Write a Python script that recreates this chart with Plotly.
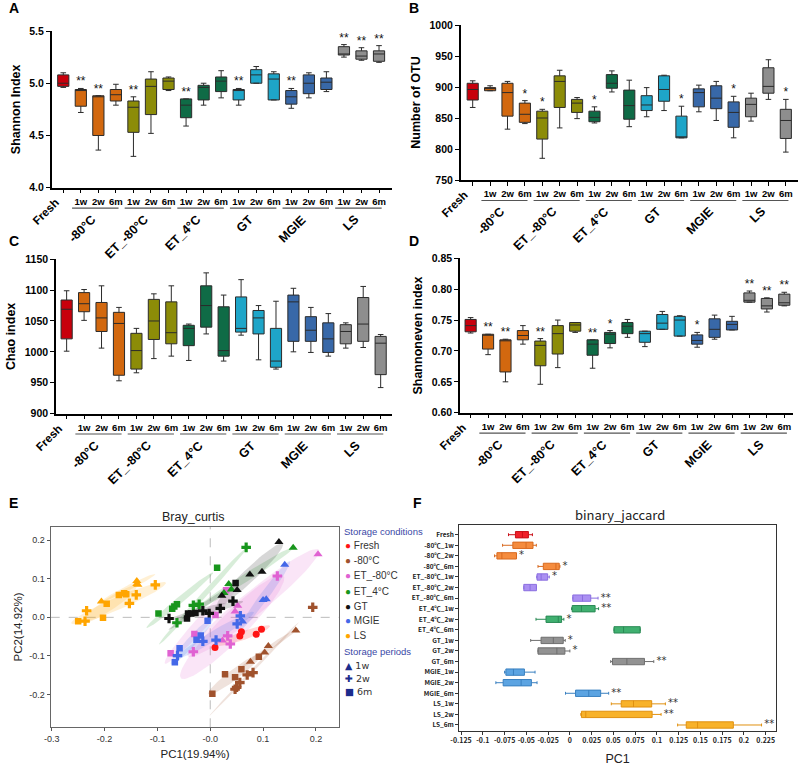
import math
import numpy as np
import plotly.graph_objects as go

W, H = 800, 769

# ---------------- data ----------------
period_labels = ["", "1w", "2w", "6m", "1w", "2w", "6m", "1w", "2w", "6m",
                 "1w", "2w", "6m", "1w", "2w", "6m", "1w", "2w", "6m"]
group_names = ["-80°C", "ET_-80°C", "ET_4°C", "GT", "MGIE", "LS"]
cond_index = [0, 1, 1, 1, 2, 2, 2, 3, 3, 3, 4, 4, 4, 5, 5, 5, 6, 6, 6]
cond_names = ["Fresh", "-80°C", "ET_-80°C", "ET_4°C", "GT", "MGIE", "LS"]
F_names = ["Fresh", "-80℃_1w", "-80℃_2w", "-80℃_6m", "ET_-80℃_1w", "ET_-80℃_2w",
           "ET_-80℃_6m", "ET_4℃_1w", "ET_4℃_2w", "ET_4℃_6m", "GT_1w", "GT_2w",
           "GT_6m", "MGIE_1w", "MGIE_2w", "MGIE_6m", "LS_1w", "LS_2w", "LS_6m"]

# Panel A: Shannon index
A_min = [4.96, 4.72, 4.36, 4.79, 4.30, 4.52, 4.93, 4.59, 4.79, 4.86, 4.79, 5.00, 4.84, 4.76, 4.86, 4.92, 5.25, 5.22, 5.20]
A_q1 = [4.97, 4.78, 4.50, 4.83, 4.53, 4.70, 4.94, 4.67, 4.84, 4.92, 4.84, 5.00, 4.84, 4.80, 4.90, 4.94, 5.27, 5.23, 5.21]
A_med = [5.00, 4.93, 4.87, 4.89, 4.77, 4.97, 5.02, 4.79, 4.96, 5.02, 4.93, 5.08, 5.04, 4.87, 5.00, 5.01, 5.28, 5.26, 5.28]
A_q3 = [5.08, 4.94, 4.88, 4.94, 4.83, 5.04, 5.05, 4.85, 4.98, 5.06, 4.94, 5.13, 5.09, 4.93, 5.08, 5.05, 5.35, 5.31, 5.31]
A_max = [5.10, 4.95, 4.88, 4.99, 4.87, 5.11, 5.06, 4.85, 5.00, 5.12, 4.95, 5.16, 5.11, 4.95, 5.10, 5.11, 5.37, 5.34, 5.36]
A_sig = ["", "**", "**", "", "**", "", "", "**", "", "", "**", "", "", "**", "", "", "**", "**", "**"]

# Panel B: Number of OTU
B_min = [867, 894, 832, 841, 785, 834, 849, 842, 892, 836, 852, 862, 818, 860, 846, 818, 845, 880, 795]
B_q1 = [879, 894, 853, 843, 816, 867, 859, 844, 898, 848, 862, 877, 818, 868, 865, 835, 852, 890, 817]
B_med = [896, 898, 891, 856, 850, 909, 874, 851, 906, 870, 871, 896, 818, 891, 882, 859, 872, 901, 846]
B_q3 = [906, 899, 906, 874, 861, 918, 880, 861, 920, 895, 886, 918, 853, 897, 902, 876, 882, 931, 864]
B_max = [910, 902, 909, 878, 864, 927, 883, 868, 926, 911, 899, 919, 869, 903, 909, 885, 890, 944, 880]
B_sig = ["", "", "", "*", "*", "", "", "*", "", "", "", "", "*", "", "", "*", "", "", "*"]

# Panel C: Chao index
C_min = [1001, 1051, 1006, 953, 966, 989, 993, 986, 1029, 985, 1027, 987, 972, 1000, 999, 993, 1006, 1007, 942]
C_q1 = [1021, 1065, 1033, 962, 972, 1020, 1013, 1010, 1040, 993, 1032, 1029, 975, 1017, 1017, 999, 1013, 1017, 963]
C_med = [1069, 1078, 1055, 1046, 1002, 1050, 1031, 1038, 1075, 1002, 1038, 1055, 985, 1081, 1035, 1021, 1033, 1045, 1014]
C_q3 = [1084, 1096, 1080, 1064, 1030, 1085, 1081, 1043, 1107, 1073, 1089, 1067, 1038, 1092, 1057, 1047, 1044, 1088, 1025]
C_max = [1099, 1101, 1107, 1072, 1038, 1094, 1107, 1045, 1128, 1092, 1117, 1075, 1082, 1103, 1072, 1062, 1047, 1106, 1028]
C_sig = [""] * 19

# Panel D: Shannoneven index
D_min = [0.729, 0.694, 0.650, 0.711, 0.646, 0.673, 0.730, 0.672, 0.705, 0.722, 0.707, 0.735, 0.724, 0.706, 0.719, 0.734, 0.779, 0.763, 0.773]
D_q1 = [0.731, 0.703, 0.666, 0.718, 0.676, 0.695, 0.732, 0.693, 0.712, 0.728, 0.714, 0.735, 0.724, 0.711, 0.722, 0.734, 0.779, 0.768, 0.774]
D_med = [0.741, 0.726, 0.717, 0.725, 0.709, 0.728, 0.742, 0.711, 0.727, 0.740, 0.728, 0.745, 0.750, 0.717, 0.735, 0.743, 0.782, 0.773, 0.778]
D_q3 = [0.751, 0.727, 0.718, 0.733, 0.716, 0.741, 0.746, 0.718, 0.730, 0.746, 0.732, 0.759, 0.756, 0.726, 0.752, 0.748, 0.794, 0.785, 0.792]
D_max = [0.754, 0.727, 0.719, 0.741, 0.720, 0.750, 0.746, 0.718, 0.733, 0.751, 0.732, 0.764, 0.757, 0.730, 0.758, 0.756, 0.797, 0.786, 0.795]
D_sig = ["", "**", "**", "", "**", "", "", "**", "*", "", "", "", "", "*", "", "", "**", "**", "**"]

# Panel F: binary_jaccard PC1
F_min = [-0.0705, -0.0773, -0.0865, -0.0366, -0.0381, -0.0529, 0.0034, 0.0020, -0.0389, 0.0507, -0.0450, -0.0366, 0.0469, -0.0750, -0.0850, -0.0050, 0.0476, 0.0126, 0.1238]
F_q1 = [-0.0625, -0.0655, -0.0838, -0.0305, -0.0377, -0.0529, 0.0034, 0.0027, -0.0274, 0.0507, -0.0331, -0.0366, 0.0490, -0.0735, -0.0766, 0.0065, 0.0590, 0.0133, 0.1337]
F_med = [-0.0545, -0.0503, -0.0781, -0.0160, -0.0330, -0.0457, 0.0145, 0.0133, -0.0133, 0.0617, -0.0190, -0.0149, 0.0655, -0.0648, -0.0560, 0.0217, 0.0731, 0.0183, 0.1467]
F_q3 = [-0.0476, -0.0423, -0.0613, -0.0122, -0.0255, -0.0384, 0.0240, 0.0290, -0.0095, 0.0808, -0.0076, -0.0057, 0.0857, -0.0522, -0.0442, 0.0354, 0.0940, 0.0945, 0.1878]
F_max = [-0.0430, -0.0385, -0.0613, -0.0114, -0.0236, -0.0384, 0.0324, 0.0330, -0.0069, 0.0808, -0.0053, 0.0000, 0.0964, -0.0400, -0.0377, 0.0446, 0.1097, 0.1048, 0.2202]
F_sig = ["", "", "*", "*", "*", "", "**", "**", "*", "", "*", "*", "**", "", "", "**", "**", "**", "**"]

# Panel E: Bray_curtis PCoA points (PC1, PC2)
E_Fresh = [(0.009, -0.078), (0.056, -0.048), (0.059, -0.037), (0.087, -0.044), (0.097, -0.031)]
E_m80_1w = [(0.162, -0.034), (0.110, -0.074), (0.103, -0.091), (0.076, -0.115)]
E_m80_2w = [(0.070, -0.149), (0.081, -0.143), (0.056, -0.169), (0.047, -0.186), (0.050, -0.181), (0.194, 0.026)]
E_m80_6m = [(0.028, -0.147), (0.004, -0.198), (0.047, -0.155), (0.059, -0.134), (0.092, -0.102)]
E_ETm80_1w = [(0.204, 0.163), (0.052, 0.030), (0.047, 0.015), (0.023, -0.060)]
E_ETm80_2w = [(0.127, 0.107), (0.033, -0.048), (0.038, -0.069), (-0.032, -0.089)]
E_ETm80_6m = [(0.030, 0.070), (0.010, 0.006), (-0.030, -0.043), (-0.075, -0.093)]
E_ET4_1w = [(0.035, 0.086), (0.026, 0.063), (0.040, 0.072), (0.157, 0.180)]
E_ET4_2w = [(-0.063, -0.014), (-0.032, 0.031), (-0.021, 0.034), (0.068, 0.181)]
E_ET4_6m = [(-0.098, 0.010), (-0.072, 0.022), (-0.068, 0.028), (-0.063, 0.034), (0.013, 0.128)]
E_GT_1w = [(0.130, 0.195), (0.075, 0.111), (0.098, 0.118), (0.022, 0.056), (0.051, 0.071)]
E_GT_2w = [(-0.078, -0.003), (-0.014, 0.017), (-0.002, 0.010), (0.019, 0.023), (0.043, 0.042)]
E_GT_6m = [(0.048, 0.089), (-0.044, -0.003), (-0.042, 0.010), (-0.036, 0.010), (-0.028, 0.011)]
E_MGIE_1w = [(0.141, 0.136), (0.100, 0.045), (0.106, 0.047), (0.061, -0.011)]
E_MGIE_2w = [(0.057, 0.004), (0.051, -0.017), (0.011, -0.059), (-0.014, -0.062), (-0.062, -0.099)]
E_MGIE_6m = [(-0.005, -0.009), (-0.018, -0.047), (-0.026, -0.058), (-0.058, -0.080), (-0.067, -0.116)]
E_LS_1w = [(-0.206, 0.041), (-0.139, 0.094), (-0.139, 0.086), (-0.137, 0.084)]
E_LS_2w = [(-0.237, -0.010), (-0.234, 0.017), (-0.153, 0.036), (-0.140, 0.058), (-0.104, 0.084)]
E_LS_6m = [(-0.250, -0.010), (-0.203, -0.001), (-0.196, 0.035), (-0.173, 0.058), (-0.163, 0.062), (-0.159, 0.060)]

E_groups = [
    ("Fresh", "", E_Fresh), ("-80°C", "1w", E_m80_1w), ("-80°C", "2w", E_m80_2w), ("-80°C", "6m", E_m80_6m),
    ("ET_-80°C", "1w", E_ETm80_1w), ("ET_-80°C", "2w", E_ETm80_2w), ("ET_-80°C", "6m", E_ETm80_6m),
    ("ET_4°C", "1w", E_ET4_1w), ("ET_4°C", "2w", E_ET4_2w), ("ET_4°C", "6m", E_ET4_6m),
    ("GT", "1w", E_GT_1w), ("GT", "2w", E_GT_2w), ("GT", "6m", E_GT_6m),
    ("MGIE", "1w", E_MGIE_1w), ("MGIE", "2w", E_MGIE_2w), ("MGIE", "6m", E_MGIE_6m),
    ("LS", "1w", E_LS_1w), ("LS", "2w", E_LS_2w), ("LS", "6m", E_LS_6m),
]

# ---------------- styles ----------------
box_colors = ["#c8000c", "#d2680f", "#8c8c08", "#0f6b46", "#1ea5c8", "#3868a8", "#8e8e8e"]
F_fill = ["#f0202a", "#f58c3e", "#ab90f2", "#40b070", "#929292", "#5ca4e2", "#f8b22a"]
F_line = ["#c81018", "#d86a20", "#8a6ee0", "#2a8a55", "#6e6e6e", "#3a80c0", "#e09010"]
E_colors = {"Fresh": "#ff1414", "-80°C": "#a0522d", "ET_-80°C": "#e062d2", "ET_4°C": "#18961c",
            "GT": "#111111", "MGIE": "#4468e8", "LS": "#ffa500"}
E_symbols = {"": "circle", "1w": "triangle-up", "2w": "cross", "6m": "square"}

FONT = "Liberation Sans, Arial, sans-serif"

def px(x):
    return x / W

def py(y):
    return 1 - y / H

def hex_rgba(h, a):
    h = h.lstrip("#")
    return "rgba(%d,%d,%d,%.3f)" % (int(h[0:2], 16), int(h[2:4], 16), int(h[4:6], 16), a)

fig = go.Figure()
annotations = []
shapes = []

def axname(n):
    return "" if n == 1 else str(n)

# ---------------- box panels A-D ----------------
panels = [
    (1, (A_min, A_q1, A_med, A_q3, A_max), A_sig, [4.0, 5.5], [4.0, 4.5, 5.0, 5.5], ["4.0", "4.5", "5.0", "5.5"],
     "Shannon Index", (51.7, 392), (31, 187.7), [-0.66, 18.74], "A", (7, 8)),
    (2, (B_min, B_q1, B_med, B_q3, B_max), B_sig, [750, 1000], [750, 800, 850, 900, 950, 1000],
     ["750", "800", "850", "900", "950", "1000"], "Number of OTU", (460.7, 798), (25, 180), [-0.69, 18.7], "B", (407, 8)),
    (3, (C_min, C_q1, C_med, C_q3, C_max), C_sig, [900, 1150], [900, 950, 1000, 1050, 1100, 1150],
     ["900", "950", "1000", "1050", "1100", "1150"], "Chao index", (56, 392), (259.3, 413.5), [-0.61, 18.65], "C", (7, 241)),
    (4, (D_min, D_q1, D_med, D_q3, D_max), D_sig, [0.60, 0.85], [0.60, 0.65, 0.70, 0.75, 0.80, 0.85],
     ["0.60", "0.65", "0.70", "0.75", "0.80", "0.85"], "Shannoneven index", (460, 793), (258.3, 412.7), [-0.61, 18.5], "D", (407, 241)),
]

layout_axes = {}
for (n, stats, sig, yr, tv, tt, ytitle, xpx, ypx, xr, letter, lpos) in panels:
    mins, q1s, meds, q3s, maxs = stats
    a = axname(n)
    for i in range(19):
        c = box_colors[cond_index[i]]
        fig.add_trace(go.Box(
            x=[i], q1=[q1s[i]], median=[meds[i]], q3=[q3s[i]],
            lowerfence=[mins[i]], upperfence=[maxs[i]],
            fillcolor=c, line=dict(color="#2b2b2b", width=1), width=0.64,
            whiskerwidth=0.5, boxpoints=False, showlegend=False, hoverinfo="skip",
            xaxis="x" + a, yaxis="y" + a))
    sx = [i for i in range(19) if sig[i]]
    if sx:
        fig.add_trace(go.Scatter(
            x=sx, y=[maxs[i] for i in sx], text=[sig[i] for i in sx], mode="text",
            textposition="top center", textfont=dict(family=FONT, size=12, color="#111"),
            showlegend=False, hoverinfo="skip", xaxis="x" + a, yaxis="y" + a))
    layout_axes["xaxis" + a] = dict(
        domain=[px(xpx[0]), px(xpx[1])], range=xr, anchor="y" + a, automargin=False,
        tickvals=list(range(19)), ticktext=period_labels, ticks="outside", ticklen=4, tickwidth=1.3,
        tickcolor="#000", showline=True, linecolor="#000", linewidth=1.5, showgrid=False, zeroline=False,
        tickfont=dict(family=FONT, size=9.5, color="#000", weight="bold"))
    layout_axes["yaxis" + a] = dict(
        domain=[py(ypx[1]), py(ypx[0])], range=yr, anchor="x" + a, automargin=False,
        tickvals=tv, ticktext=tt, ticks="outside", ticklen=4, tickwidth=1.3, tickcolor="#000",
        showline=True, linecolor="#000", linewidth=1.5, showgrid=False, zeroline=False,
        tickfont=dict(family=FONT, size=10.5, color="#000", weight="bold"),
        title=dict(text=ytitle, font=dict(family=FONT, size=12.5, color="#000", weight="bold"), standoff=6))
    annotations.append(dict(text="<b>%s</b>" % letter, x=px(lpos[0]), y=py(lpos[1]), xref="paper", yref="paper",
                            xanchor="left", yanchor="middle", showarrow=False,
                            font=dict(family=FONT, size=14, color="#000")))
    bottom = ypx[1]
    annotations.append(dict(text="<b>Fresh</b>", x=0, xref="x" + a, y=py(bottom + 6), yref="paper",
                            textangle=-45, xanchor="right", yanchor="top", showarrow=False,
                            font=dict(family=FONT, size=11.5, color="#000")))
    for g in range(6):
        first = 1 + 3 * g
        last = first + 2
        shapes.append(dict(type="line", xref="x" + a, yref="paper", x0=first - 0.5, x1=last + 0.15,
                           y0=py(bottom + 20.5), y1=py(bottom + 20.5), line=dict(color="#555", width=1.2)))
        annotations.append(dict(text="<b>%s</b>" % group_names[g], x=first + 1.15, xref="x" + a,
                                y=py(bottom + 22), yref="paper", textangle=-45, xanchor="right",
                                yanchor="top", showarrow=False,
                                font=dict(family=FONT, size=12.5, color="#000")))

# ---------------- panel E ----------------
chi_scale = math.sqrt(-2 * math.log(1 - 0.68))
t = np.linspace(0, 2 * np.pi, 80)
for cond, per, pts in E_groups:
    arr = np.array(pts)
    if len(arr) < 3:
        continue
    mu = arr.mean(axis=0)
    cov = np.cov(arr.T)
    vals, vecs = np.linalg.eigh(cov)
    vals = np.clip(vals, 1e-9, None)
    circ = np.vstack([np.cos(t), np.sin(t)])
    ell = vecs @ (np.sqrt(vals)[:, None] * chi_scale * circ)
    fig.add_trace(go.Scatter(x=ell[0] + mu[0], y=ell[1] + mu[1], mode="lines", fill="toself",
                             fillcolor=hex_rgba(E_colors[cond], 0.17), line=dict(width=0),
                             showlegend=False, hoverinfo="skip", xaxis="x5", yaxis="y5"))

for cond, per, pts in E_groups:
    arr = np.array(pts)
    sym = E_symbols[per]
    size = {"circle": 7, "triangle-up": 8, "cross": 8, "square": 6.5}[sym]
    fig.add_trace(go.Scatter(x=arr[:, 0], y=arr[:, 1], mode="markers",
                             marker=dict(color=E_colors[cond], symbol=sym, size=size, line=dict(width=0)),
                             showlegend=False, hoverinfo="skip", xaxis="x5", yaxis="y5"))

layout_axes["xaxis5"] = dict(
    domain=[px(50.7), px(339.3)], range=[-0.302, 0.2443], anchor="y5", automargin=False,
    tickvals=[-0.3, -0.2, -0.1, 0.0, 0.1, 0.2], ticktext=["-0.3", "-0.2", "-0.1", "-0.0", "0.1", "0.2"],
    ticks="outside", ticklen=3, tickcolor="#555", showline=True, mirror=True, linecolor="#666", linewidth=1.2,
    showgrid=False, zeroline=False, tickfont=dict(family=FONT, size=9, color="#333"),
    title=dict(text="PC1(19.94%)", font=dict(family=FONT, size=11.5, color="#222"), standoff=6))
layout_axes["yaxis5"] = dict(
    domain=[py(727.3), py(526.7)], range=[-0.2845, 0.2345], anchor="x5", automargin=False,
    tickvals=[-0.2, -0.1, 0.0, 0.1, 0.2], ticktext=["-0.2", "-0.1", "0.0", "0.1", "0.2"],
    ticks="outside", ticklen=3, tickcolor="#555", showline=True, mirror=True, linecolor="#666", linewidth=1.2,
    showgrid=False, zeroline=False, tickfont=dict(family=FONT, size=9, color="#333"),
    title=dict(text="PC2(14.92%)", font=dict(family=FONT, size=11.5, color="#222"), standoff=4))
shapes.append(dict(type="line", xref="x5", yref="y5 domain", x0=0, x1=0, y0=0, y1=1,
                   line=dict(color="#bbb", width=1, dash="dash"), layer="below"))
shapes.append(dict(type="line", xref="x5 domain", yref="y5", x0=0, x1=1, y0=0, y1=0,
                   line=dict(color="#bbb", width=1, dash="dash"), layer="below"))
annotations.append(dict(text="<b>E</b>", x=px(7), y=py(503), xref="paper", yref="paper", xanchor="left",
                        yanchor="middle", showarrow=False, font=dict(family=FONT, size=14, color="#000")))
annotations.append(dict(text="Bray_curtis", x=px(193), y=py(517), xref="paper", yref="paper",
                        xanchor="center", yanchor="middle", showarrow=False,
                        font=dict(family=FONT, size=12.5, color="#222")))

LEG_X = 342
annotations.append(dict(text="Storage conditions", x=px(LEG_X), y=py(531), xref="paper", yref="paper",
                        xanchor="left", yanchor="middle", showarrow=False,
                        font=dict(family=FONT, size=9.5, color="#3a48a6")))
cond_y = [545.5, 560.5, 575.7, 591, 606, 620.7, 635.7]
for name, yy in zip(cond_names, cond_y):
    annotations.append(dict(text="<span style='color:%s'>●</span> %s" % (E_colors[name], name),
                            x=px(LEG_X + 1), y=py(yy), xref="paper", yref="paper", xanchor="left",
                            yanchor="middle", showarrow=False,
                            font=dict(family=FONT, size=10, color="#333")))
annotations.append(dict(text="Storage periods", x=px(LEG_X), y=py(651), xref="paper", yref="paper",
                        xanchor="left", yanchor="middle", showarrow=False,
                        font=dict(family=FONT, size=9.5, color="#3a48a6")))
for glyph, name, yy in [("▲", "1w", 665), ("✚", "2w", 678.7), ("■", "6m", 691.7)]:
    annotations.append(dict(text="<span style='color:#1c2c8c'>%s</span> %s" % (glyph, name),
                            x=px(LEG_X + 1), y=py(yy), xref="paper", yref="paper", xanchor="left",
                            yanchor="middle", showarrow=False,
                            font=dict(family="DejaVu Sans, " + FONT, size=9.5, color="#333")))

# ---------------- panel F ----------------
for i in range(19):
    k = cond_index[i]
    fig.add_trace(go.Box(
        y=[i], q1=[F_q1[i]], median=[F_med[i]], q3=[F_q3[i]],
        lowerfence=[F_min[i]], upperfence=[F_max[i]], orientation="h",
        fillcolor=F_fill[k], line=dict(color=F_line[k], width=1), width=0.6, whiskerwidth=0.45,
        boxpoints=False, showlegend=False, hoverinfo="skip", xaxis="x6", yaxis="y6"))
fsx = [i for i in range(19) if F_sig[i]]
fig.add_trace(go.Scatter(
    x=[F_max[i] + 0.003 for i in fsx], y=fsx, text=[F_sig[i] for i in fsx], mode="text",
    textposition="middle right", textfont=dict(family="DejaVu Sans, sans-serif", size=10, color="#333"),
    showlegend=False, hoverinfo="skip", xaxis="x6", yaxis="y6"))

F_ticks = [-0.125, -0.1, -0.075, -0.05, -0.025, 0, 0.025, 0.05, 0.075, 0.1, 0.125, 0.15, 0.175, 0.2, 0.225]
F_ticktext = ["-0.125", "-0.1", "-0.075", "-0.05", "-0.025", "0", "0.025", "0.05", "0.075", "0.1",
              "0.125", "0.15", "0.175", "0.2", "0.225"]
layout_axes["xaxis6"] = dict(
    domain=[px(459.3), px(776)], range=[-0.127, 0.2368], anchor="y6", automargin=False,
    tickvals=F_ticks, ticktext=F_ticktext, ticks="outside", ticklen=3, tickcolor="#333",
    showline=True, mirror=True, linecolor="#333", linewidth=1.2, showgrid=False, zeroline=False,
    tickfont=dict(family="Noto Sans CJK SC, sans-serif", size=7, color="#222", weight="bold"),
    title=dict(text="PC1", font=dict(family=FONT, size=12.5, color="#222"), standoff=10))
layout_axes["yaxis6"] = dict(
    domain=[py(730.7), py(525.3)], range=[18.54, -0.89], anchor="x6", automargin=False,
    tickvals=list(range(19)), ticktext=F_names, ticks="outside", ticklen=3, tickcolor="#333",
    showline=True, mirror=True, linecolor="#333", linewidth=1.2, showgrid=False, zeroline=False,
    tickfont=dict(family="Noto Sans CJK SC, sans-serif", size=6.5, color="#222", weight="bold"))
annotations.append(dict(text="<b>F</b>", x=px(411), y=py(503), xref="paper", yref="paper", xanchor="left",
                        yanchor="middle", showarrow=False, font=dict(family=FONT, size=14, color="#000")))
annotations.append(dict(text="binary_jaccard", x=px(620), y=py(514), xref="paper", yref="paper",
                        xanchor="center", yanchor="middle", showarrow=False,
                        font=dict(family="Noto Sans CJK SC, sans-serif", size=13, color="#222")))

fig.update_layout(
    width=W, height=H, margin=dict(l=0, r=0, t=0, b=0, autoexpand=False),
    paper_bgcolor="#fff", plot_bgcolor="#fff", showlegend=False,
    annotations=annotations, shapes=shapes, boxmode="overlay", **layout_axes)

# remove the browser's default body margin so the 800x769 figure fills the window exactly
fig.write_html("out.html", config={"displayModeBar": False},
               post_script="document.body.style.margin='0';document.body.style.overflow='hidden';")
